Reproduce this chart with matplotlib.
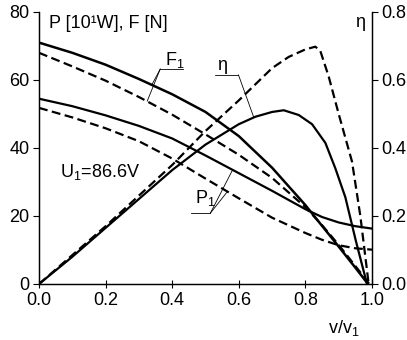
import matplotlib
matplotlib.use("Agg")
import matplotlib.pyplot as plt

plt.rcParams["font.family"] = ["Liberation Sans", "DejaVu Sans"]
plt.rcParams["mathtext.fontset"] = "custom"
plt.rcParams["mathtext.rm"] = "Liberation Sans"
plt.rcParams["mathtext.it"] = "Liberation Sans:italic"

# ─────────────────────────────────────────────────────────────────────────────
# DADOS
# ─────────────────────────────────────────────────────────────────────────────
f1_x       = [0, 0.1, 0.2, 0.3, 0.4, 0.5, 0.6, 0.7, 0.8, 0.9, 0.95, 0.988]
f1_solid   = [71, 68, 64.5, 60.3, 55.8, 50.6, 43.5, 34.2, 23.2, 11, 4.8, 0]
f1d_x      = [0, 0.1, 0.2, 0.3, 0.4, 0.5, 0.6, 0.7, 0.8, 0.85, 0.9, 0.95, 0.992]
f1_dashed  = [68, 64, 59.8, 55, 49.8, 44, 38, 31.2, 22.6, 17.3, 11.5, 5.3, 0]

p1_x       = [0, 0.1, 0.2, 0.3, 0.4, 0.5, 0.6, 0.7, 0.8, 0.85, 0.9, 0.95, 1.0]
p1_solid   = [54.5, 52.3, 49.6, 46.5, 42.8, 37.8, 32.6, 27.4, 22, 19.7, 18.1, 17, 16.3]
p1_dashed  = [51.8, 49, 45.8, 42, 36.9, 31, 25.2, 19.5, 15, 13, 11.4, 10.5, 10.1]

eta_x      = [0, 0.1, 0.2, 0.3, 0.4, 0.5, 0.6, 0.65, 0.7, 0.735, 0.78, 0.82,
              0.86, 0.89, 0.92, 0.952, 0.985]
eta_solid  = [0, 0.08, 0.165, 0.25, 0.335, 0.41, 0.47, 0.492, 0.506, 0.511,
              0.497, 0.47, 0.415, 0.34, 0.255, 0.125, 0]
etad_x     = [0, 0.1, 0.2, 0.3, 0.4, 0.5, 0.6, 0.7, 0.75, 0.8, 0.83, 0.845,
              0.87, 0.9, 0.94, 0.965, 0.99]
eta_dashed = [0, 0.085, 0.17, 0.26, 0.35, 0.45, 0.54, 0.635, 0.668, 0.69,
              0.698, 0.685, 0.61, 0.5, 0.36, 0.2, 0]

x_ticks     = [0.0, 0.2, 0.4, 0.6, 0.8, 1.0]
left_ticks  = [0, 20, 40, 60, 80]
right_ticks = [0.0, 0.2, 0.4, 0.6, 0.8]

# ─────────────────────────────────────────────────────────────────────────────
# FIGURA
# ─────────────────────────────────────────────────────────────────────────────
FS = 13
LW = 1.6
DASH = (4, 2)

fig = plt.figure(figsize=(4.07, 3.40), dpi=100)
ax = fig.add_axes([39 / 407, 56 / 340, 333 / 407, 272 / 340])
ax2 = ax.twinx()

ax.plot(f1_x, f1_solid, color="black", lw=LW + 0.2)
ax.plot(f1d_x, f1_dashed, color="black", lw=LW, dashes=DASH)
ax.plot(p1_x, p1_solid, color="black", lw=LW)
ax.plot(p1_x, p1_dashed, color="black", lw=LW, dashes=DASH)
ax2.plot(eta_x, eta_solid, color="black", lw=LW)
ax2.plot(etad_x, eta_dashed, color="black", lw=LW, dashes=DASH)

ax.set_xlim(0, 1.0)
ax.set_ylim(0, 80)
ax2.set_ylim(0, 0.8)

ax.set_xticks(x_ticks)
ax.set_xticklabels([f"{v:.1f}" for v in x_ticks])
ax.set_yticks(left_ticks)
ax2.set_yticks(right_ticks)
ax2.set_yticklabels([f"{v:.1f}" for v in right_ticks])

ax.tick_params(axis="x", direction="inout", length=6, width=0.8, labelsize=FS, pad=3)
ax.tick_params(axis="y", direction="out", length=4, width=0.8, labelsize=FS, pad=3)
ax2.tick_params(axis="y", direction="out", length=4, width=0.8, labelsize=FS, pad=3)

for a in (ax, ax2):
    a.spines["top"].set_visible(False)
    for s in ("left", "right", "bottom"):
        a.spines[s].set_linewidth(0.9)

# ─────────────────────────────────────────────────────────────────────────────
# TEXTOS E INDICADORES
# ─────────────────────────────────────────────────────────────────────────────
fig.text(49 / 407, 1 - 28 / 340, "P [10¹W], F [N]", fontsize=FS, va="baseline")
fig.text(355 / 407, 1 - 27 / 340, "η", fontsize=FS, va="baseline")
fig.text(328 / 407, 1 - 333 / 340, r"v/v$\mathregular{_1}$", fontsize=FS, va="baseline")

ax.text(0.063, 31.5, r"U$\mathregular{_1}$=86.6V", fontsize=FS, va="baseline")

thin = dict(color="black", lw=0.6)

# F1
ax.text(0.378, 64.3, r"F$\mathregular{_1}$", fontsize=FS, va="baseline")
ax.plot([0.364, 0.431], [63.2, 63.2], **thin)
ax.plot([0.364, 0.340], [63.2, 58.8], **thin)
ax.plot([0.364, 0.325], [63.2, 53.8], **thin)

# eta
ax.text(0.535, 61.8, "η", fontsize=FS, va="bottom")
ax.plot([0.530, 0.599], [61.5, 61.5], **thin)
ax.plot([0.599, 0.645], [61.5, 49.0], **thin)

# P1
ax.text(0.468, 23.8, r"P$\mathregular{_1}$", fontsize=FS, va="baseline")
ax.plot([0.455, 0.515], [20.9, 20.9], **thin)
ax.plot([0.515, 0.581], [20.9, 33.5], **thin)
ax.plot([0.515, 0.566], [20.9, 27.2], **thin)

fig.savefig("out.png", dpi=100)
